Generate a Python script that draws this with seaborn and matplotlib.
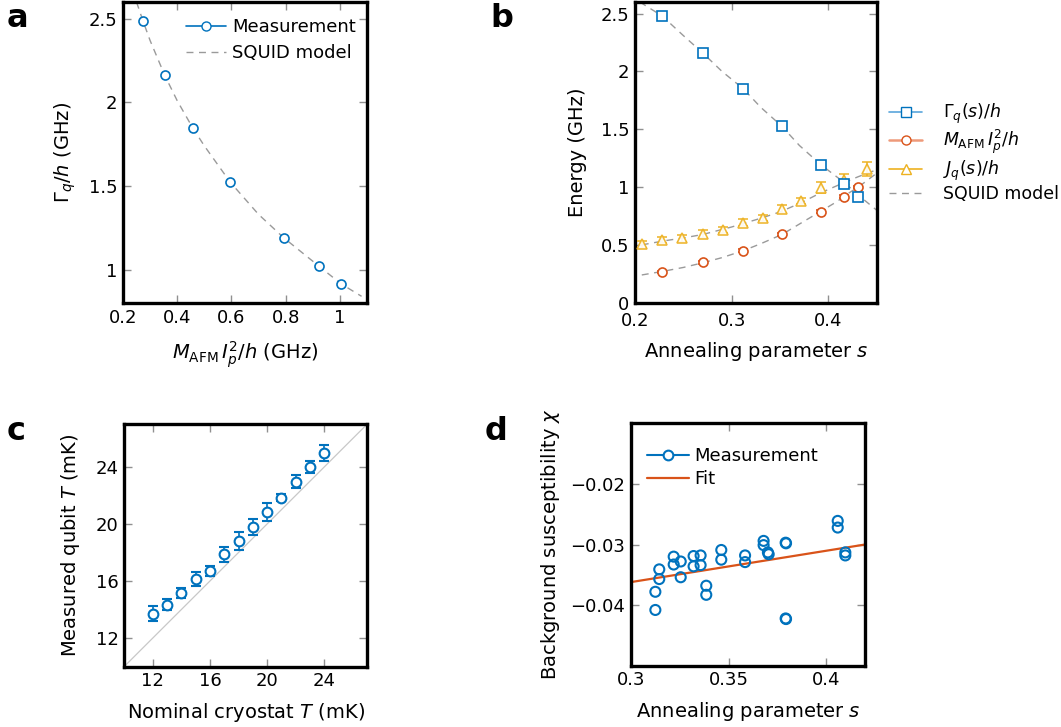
import numpy as np
import pandas as pd
import matplotlib
matplotlib.use("Agg")
import matplotlib.pyplot as plt
import seaborn as sns
from matplotlib.lines import Line2D

# ---------------- data ----------------
# panel a
a_m = [0.274, 0.354, 0.457, 0.596, 0.793, 0.923, 1.004]
a_gamma = [2.486, 2.162, 1.848, 1.522, 1.190, 1.020, 0.915]
a_model_x = [0.25, 0.274, 0.30, 0.354, 0.40, 0.457, 0.50, 0.596, 0.70, 0.793, 0.90, 1.004, 1.08]
a_model_y = [2.60, 2.486, 2.37, 2.162, 2.01, 1.848, 1.74, 1.522, 1.33, 1.190, 1.05, 0.915, 0.84]

# panel b
b_s = [0.228, 0.270, 0.312, 0.352, 0.392, 0.4166, 0.431]
b_gamma = [2.48, 2.16, 1.85, 1.525, 1.195, 1.03, 0.915]
b_m = [0.265, 0.350, 0.450, 0.590, 0.788, 0.918, 1.00]
b_sj = [0.207, 0.228, 0.249, 0.270, 0.291, 0.312, 0.332, 0.352, 0.372, 0.392, 0.4166, 0.4396]
b_j = [0.505, 0.540, 0.556, 0.598, 0.627, 0.693, 0.735, 0.810, 0.878, 0.995, 1.06, 1.155]
b_jerr = [0.03, 0.025, 0.03, 0.035, 0.025, 0.03, 0.025, 0.035, 0.025, 0.05, 0.05, 0.06]
b_gmod_s = [0.205, 0.228, 0.25, 0.27, 0.29, 0.312, 0.33, 0.352, 0.37, 0.392, 0.41, 0.4166, 0.431, 0.45]
b_gmod_y = [2.60, 2.48, 2.31, 2.16, 2.00, 1.85, 1.69, 1.525, 1.36, 1.195, 1.08, 1.04, 0.93, 0.80]
b_mmod_s = [0.207, 0.228, 0.25, 0.27, 0.29, 0.312, 0.33, 0.352, 0.37, 0.392, 0.41, 0.4166, 0.431, 0.45]
b_mmod_y = [0.24, 0.27, 0.305, 0.345, 0.39, 0.45, 0.51, 0.59, 0.68, 0.79, 0.88, 0.925, 1.00, 1.12]
b_jmod_s = [0.207, 0.23, 0.25, 0.27, 0.30, 0.33, 0.35, 0.372, 0.392, 0.4166, 0.431, 0.45]
b_jmod_y = [0.50, 0.535, 0.56, 0.59, 0.655, 0.73, 0.785, 0.865, 0.95, 1.04, 1.09, 1.15]

# panel c
c_nominal = [12, 13, 14, 15, 16, 17, 18, 19, 20, 21, 22, 23, 24]
c_measured = [13.71, 14.34, 15.16, 16.16, 16.73, 17.89, 18.81, 19.77, 20.82, 21.85, 22.97, 23.98, 24.98]
c_err = [0.53, 0.39, 0.37, 0.49, 0.35, 0.53, 0.61, 0.55, 0.63, 0.26, 0.44, 0.42, 0.54]
c_diag = [10, 27]

# panel d
d_s = [0.3125, 0.3125, 0.3145, 0.3145, 0.3219, 0.3219, 0.3255, 0.3255, 0.3321, 0.3321,
       0.3357, 0.3357, 0.3386, 0.3386, 0.3463, 0.3463, 0.3585, 0.3585, 0.3680, 0.3680,
       0.3702, 0.3706, 0.3793, 0.3795, 0.3793, 0.3795, 0.4060, 0.4060, 0.4099, 0.4099]
d_chi = [-0.0378, -0.0408, -0.0341, -0.0357, -0.0320, -0.0333, -0.0328, -0.0354, -0.0319, -0.0336,
         -0.0318, -0.0334, -0.0368, -0.0383, -0.0309, -0.0325, -0.0318, -0.0329, -0.0294, -0.0301,
         -0.0313, -0.0316, -0.0297, -0.0298, -0.0422, -0.0423, -0.0261, -0.0272, -0.0313, -0.0318]
d_fit_s = [0.30, 0.42]
d_fit_chi = [-0.0362, -0.0300]

BLUE = "#0072BD"
ORANGE = "#D95319"
YELLOW = "#EDB120"
GRAY = "#9a9a9a"
DASH = (0, (5, 4))

sns.set_theme(style="ticks")
plt.rcParams["font.family"] = ["DejaVu Sans"]
plt.rcParams["mathtext.fontset"] = "dejavusans"
plt.rcParams["font.size"] = 13
plt.rcParams["text.color"] = "black"
plt.rcParams["axes.labelcolor"] = "black"
plt.rcParams["xtick.labelcolor"] = "black"
plt.rcParams["ytick.labelcolor"] = "black"

fig = plt.figure(figsize=(10.61, 7.27), dpi=100)
axa = fig.add_axes([0.1159, 0.5832, 0.2300, 0.4140])
axb = fig.add_axes([0.5985, 0.5836, 0.2278, 0.4136])
axc = fig.add_axes([0.1169, 0.0829, 0.2293, 0.3339])
axd = fig.add_axes([0.5947, 0.0843, 0.2206, 0.3334])

def style(ax):
    for sp in ax.spines.values():
        sp.set_linewidth(2.4)
        sp.set_color("black")
        sp.set_visible(True)
    ax.tick_params(direction="in", top=True, right=True, length=6, width=1,
                   color="#909090", labelsize=13, labelcolor="black", pad=4)

# ---- panel a ----
df_am = pd.DataFrame({"x": a_model_x, "y": a_model_y})
sns.lineplot(data=df_am, x="x", y="y", ax=axa, color=GRAY, lw=1, linestyle=DASH, sort=False)
axa.errorbar(a_m, a_gamma, xerr=0.012, yerr=0.008, fmt="o", mfc="white", mec=BLUE, ecolor=BLUE,
             ms=6.5, mew=1.2, elinewidth=1, capsize=0, zorder=3)
axa.set_xlim(0.2, 1.1)
axa.set_ylim(0.8, 2.6)
axa.set_xticks([0.2, 0.4, 0.6, 0.8, 1.0])
axa.set_xticklabels(["0.2", "0.4", "0.6", "0.8", "1"])
axa.set_yticks([1, 1.5, 2, 2.5])
axa.set_yticklabels(["1", "1.5", "2", "2.5"])
axa.set_xlabel(r"$M_{\mathrm{AFM}}\,I_p^2/h$ (GHz)", fontsize=14, labelpad=9)
axa.set_ylabel(r"$\Gamma_q/h$ (GHz)", fontsize=14, labelpad=8)
style(axa)
ha = [Line2D([], [], color=BLUE, lw=1.2, marker="o", mfc="white", mec=BLUE, ms=6.5),
      Line2D([], [], color=GRAY, lw=1, linestyle=DASH)]
axa.legend(ha, ["Measurement", "SQUID model"], loc="upper right", frameon=False,
           fontsize=13, handlelength=2.2, handletextpad=0.35, labelspacing=0.45,
           bbox_to_anchor=(1.02, 1.0))

# ---- panel b ----
for xs, ys in [(b_gmod_s, b_gmod_y), (b_mmod_s, b_mmod_y), (b_jmod_s, b_jmod_y)]:
    sns.lineplot(x=xs, y=ys, ax=axb, color=GRAY, lw=1, linestyle=DASH, sort=False)
axb.errorbar(b_sj, b_j, yerr=b_jerr, fmt="^", mfc="white", mec=YELLOW, ecolor=YELLOW,
             ms=6.5, mew=1.2, elinewidth=1.2, capsize=3.5, zorder=3, alpha=0.9)
axb.errorbar(b_s, b_m, yerr=0.012, fmt="o", mfc="white", mec=ORANGE, ecolor=ORANGE,
             ms=6.5, mew=1.2, elinewidth=1, capsize=3.5, zorder=4)
axb.errorbar(b_s, b_gamma, yerr=0.015, fmt="s", mfc="white", mec=BLUE, ecolor=BLUE,
             ms=6.5, mew=1.2, elinewidth=1, capsize=3.5, zorder=5)
axb.set_xlim(0.2, 0.45)
axb.set_ylim(0, 2.6)
axb.set_xticks([0.2, 0.3, 0.4])
axb.set_yticks([0, 0.5, 1, 1.5, 2, 2.5])
axb.set_yticklabels(["0", "0.5", "1", "1.5", "2", "2.5"])
axb.tick_params(axis="x", pad=6)
axb.set_xlabel(r"Annealing parameter $s$", fontsize=14, labelpad=7)
axb.set_ylabel("Energy (GHz)", fontsize=14, labelpad=10)
style(axb)
axb.tick_params(axis="x", pad=7)
hb = [Line2D([], [], color="#5aa6dc", lw=1.2, marker="s", mfc="white", mec=BLUE, ms=6.5),
      Line2D([], [], color="#ee9a7a", lw=1.8, marker="o", mfc="white", mec=ORANGE, ms=6.5),
      Line2D([], [], color=YELLOW, lw=1.2, marker="^", mfc="white", mec=YELLOW, ms=6.5),
      Line2D([], [], color=GRAY, lw=1, linestyle=DASH)]
fig.legend(hb, [r"$\Gamma_q(s)/h$", r"$M_{\mathrm{AFM}}\,I_p^2/h$", r"$J_q(s)/h$", "SQUID model"],
           loc="upper left", bbox_to_anchor=(0.838, 0.860), frameon=False, fontsize=12.5,
           handlelength=1.9, handletextpad=1.2, labelspacing=0.12, borderpad=0, borderaxespad=0)

# ---- panel c ----
sns.lineplot(x=c_diag, y=c_diag, ax=axc, color="#c8c8c8", lw=0.9)
axc.errorbar(c_nominal, c_measured, yerr=c_err, fmt="o", mfc="white", mec=BLUE, ecolor=BLUE,
             ms=7, mew=1.5, elinewidth=1.2, capsize=3.5, zorder=3)
axc.set_xlim(10, 27)
axc.set_ylim(10, 27)
axc.set_xticks([12, 16, 20, 24])
axc.set_yticks([12, 16, 20, 24])
axc.set_xlabel(r"Nominal cryostat $T$ (mK)", fontsize=14, labelpad=8)
axc.set_ylabel(r"Measured qubit $T$ (mK)", fontsize=14, labelpad=10)
style(axc)

# ---- panel d ----
df_d = pd.DataFrame({"s": d_s, "chi": d_chi})
sns.lineplot(x=d_fit_s, y=d_fit_chi, ax=axd, color=ORANGE, lw=1.6)
sns.scatterplot(data=df_d, x="s", y="chi", ax=axd, marker="o", s=52,
                facecolor="none", edgecolor=BLUE, linewidth=1.5, zorder=3)
axd.set_xlim(0.3, 0.42)
axd.set_ylim(-0.05, -0.01)
axd.set_xticks([0.3, 0.35, 0.4])
axd.set_xticklabels(["0.3", "0.35", "0.4"])
axd.set_yticks([-0.04, -0.03, -0.02])
axd.set_yticklabels(["\u22120.04", "\u22120.03", "\u22120.02"])
axd.set_xlabel(r"Annealing parameter $s$", fontsize=14, labelpad=8)
axd.set_ylabel(r"Background susceptibility $\chi$", fontsize=14, labelpad=6)
style(axd)
hd = [Line2D([], [], color=BLUE, lw=1.5, marker="o", mfc="white", mec=BLUE, ms=7, mew=1.5),
      Line2D([], [], color=ORANGE, lw=1.6)]
axd.legend(hd, ["Measurement", "Fit"], loc="upper left", frameon=False, fontsize=13,
           handlelength=2.3, handletextpad=0.3, labelspacing=0.3, bbox_to_anchor=(0.0, 0.97))

# panel letters
for txt, x, y in [("a", 0.006, 0.963), ("b", 0.462, 0.963), ("c", 0.006, 0.395), ("d", 0.457, 0.395)]:
    fig.text(x, y, txt, fontsize=23, fontweight="bold", va="baseline", ha="left", color="black")

fig.savefig("out.png", dpi=100)
